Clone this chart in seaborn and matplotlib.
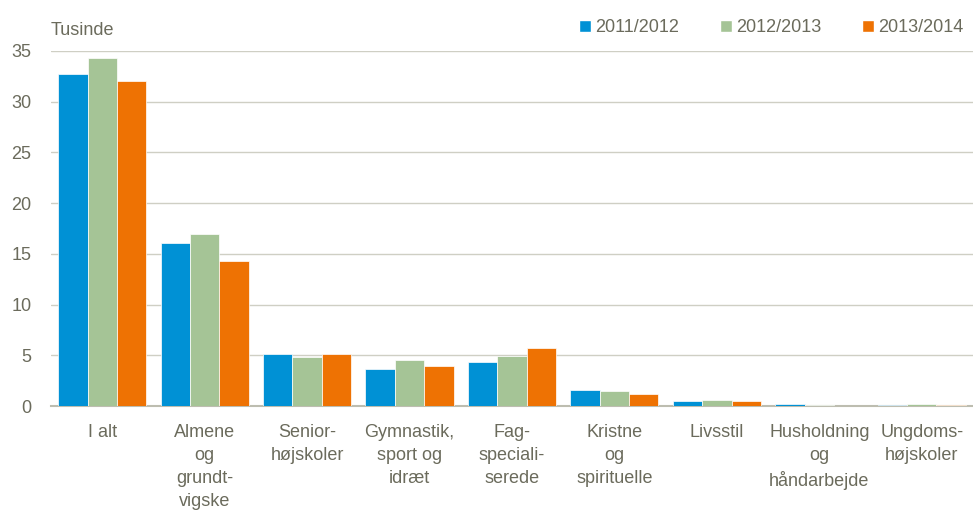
import matplotlib
matplotlib.use("Agg")
import matplotlib.pyplot as plt
import seaborn as sns
import pandas as pd
from matplotlib.lines import Line2D

categories = ["I alt", "Almene\nog\ngrundt-\nvigske", "Senior-\nhøjskoler", "Gymnastik,\nsport og\nidræt",
              "Fag-\nspeciali-\nserede", "Kristne\nog\nspirituelle", "Livsstil", "Husholdning\nog\nhåndarbejde",
              "Ungdoms-\nhøjskoler"]
years = ["2011/2012", "2012/2013", "2013/2014"]
v2011 = [32.7, 16.1, 5.1, 3.7, 4.3, 1.6, 0.47, 0.25, 0.12]
v2012 = [34.3, 17.0, 4.8, 4.5, 4.9, 1.5, 0.63, 0.08, 0.18]
v2013 = [32.0, 14.3, 5.1, 3.9, 5.7, 1.15, 0.53, 0.02, 0.15]
colors = ["#0091d5", "#a5c496", "#ee7203"]

rows = []
for yr, vals in zip(years, [v2011, v2012, v2013]):
    for c, v in zip(categories, vals):
        rows.append({"cat": c, "year": yr, "value": v})
df = pd.DataFrame(rows)

sns.set_style("white")
plt.rcParams['font.family'] = ['Liberation Sans', 'DejaVu Sans']
txt = "#6b6b5c"

fig = plt.figure(figsize=(9.73, 5.14), dpi=100)
ax = fig.add_axes([0.0524, 0.21, 0.9476, 0.6908])
sns.barplot(data=df, x="cat", y="value", hue="year", palette=colors, ax=ax,
            width=0.86, edgecolor="white", linewidth=0.5, legend=False, saturation=1, zorder=3)
ax.set_ylim(0, 35)
ax.set_yticks(range(0, 36, 5))
ax.yaxis.grid(True, color="#cfcfc4", linewidth=1)
ax.set_axisbelow(True)
for s in ["top", "right", "left"]:
    ax.spines[s].set_visible(False)
ax.spines["bottom"].set_color("#bdbdb0")
ax.spines["bottom"].set_linewidth(1.5)
ax.spines["bottom"].set_zorder(1)
ax.set_xlabel("")
ax.set_ylabel("")
ax.tick_params(axis="both", length=0, labelsize=13, labelcolor=txt)
ax.tick_params(axis="x", pad=13)
ax.tick_params(axis="y", pad=14)
for lab in ax.get_xticklabels():
    lab.set_linespacing(1.45)
fig.text(0.0524, 0.94, "Tusinde", fontsize=13, color=txt, va="center", ha="left")
handles = [Line2D([0], [0], marker="s", color="w", markerfacecolor=c, markersize=8, linestyle="") for c in colors]
ax.legend(handles, years, ncol=3, frameon=False, loc="center right",
          bbox_to_anchor=(0.997, 1.065), fontsize=13, labelcolor=txt,
          handletextpad=0.15, columnspacing=2.2, handlelength=0.8, borderaxespad=0)
fig.savefig("out.png", dpi=100)
